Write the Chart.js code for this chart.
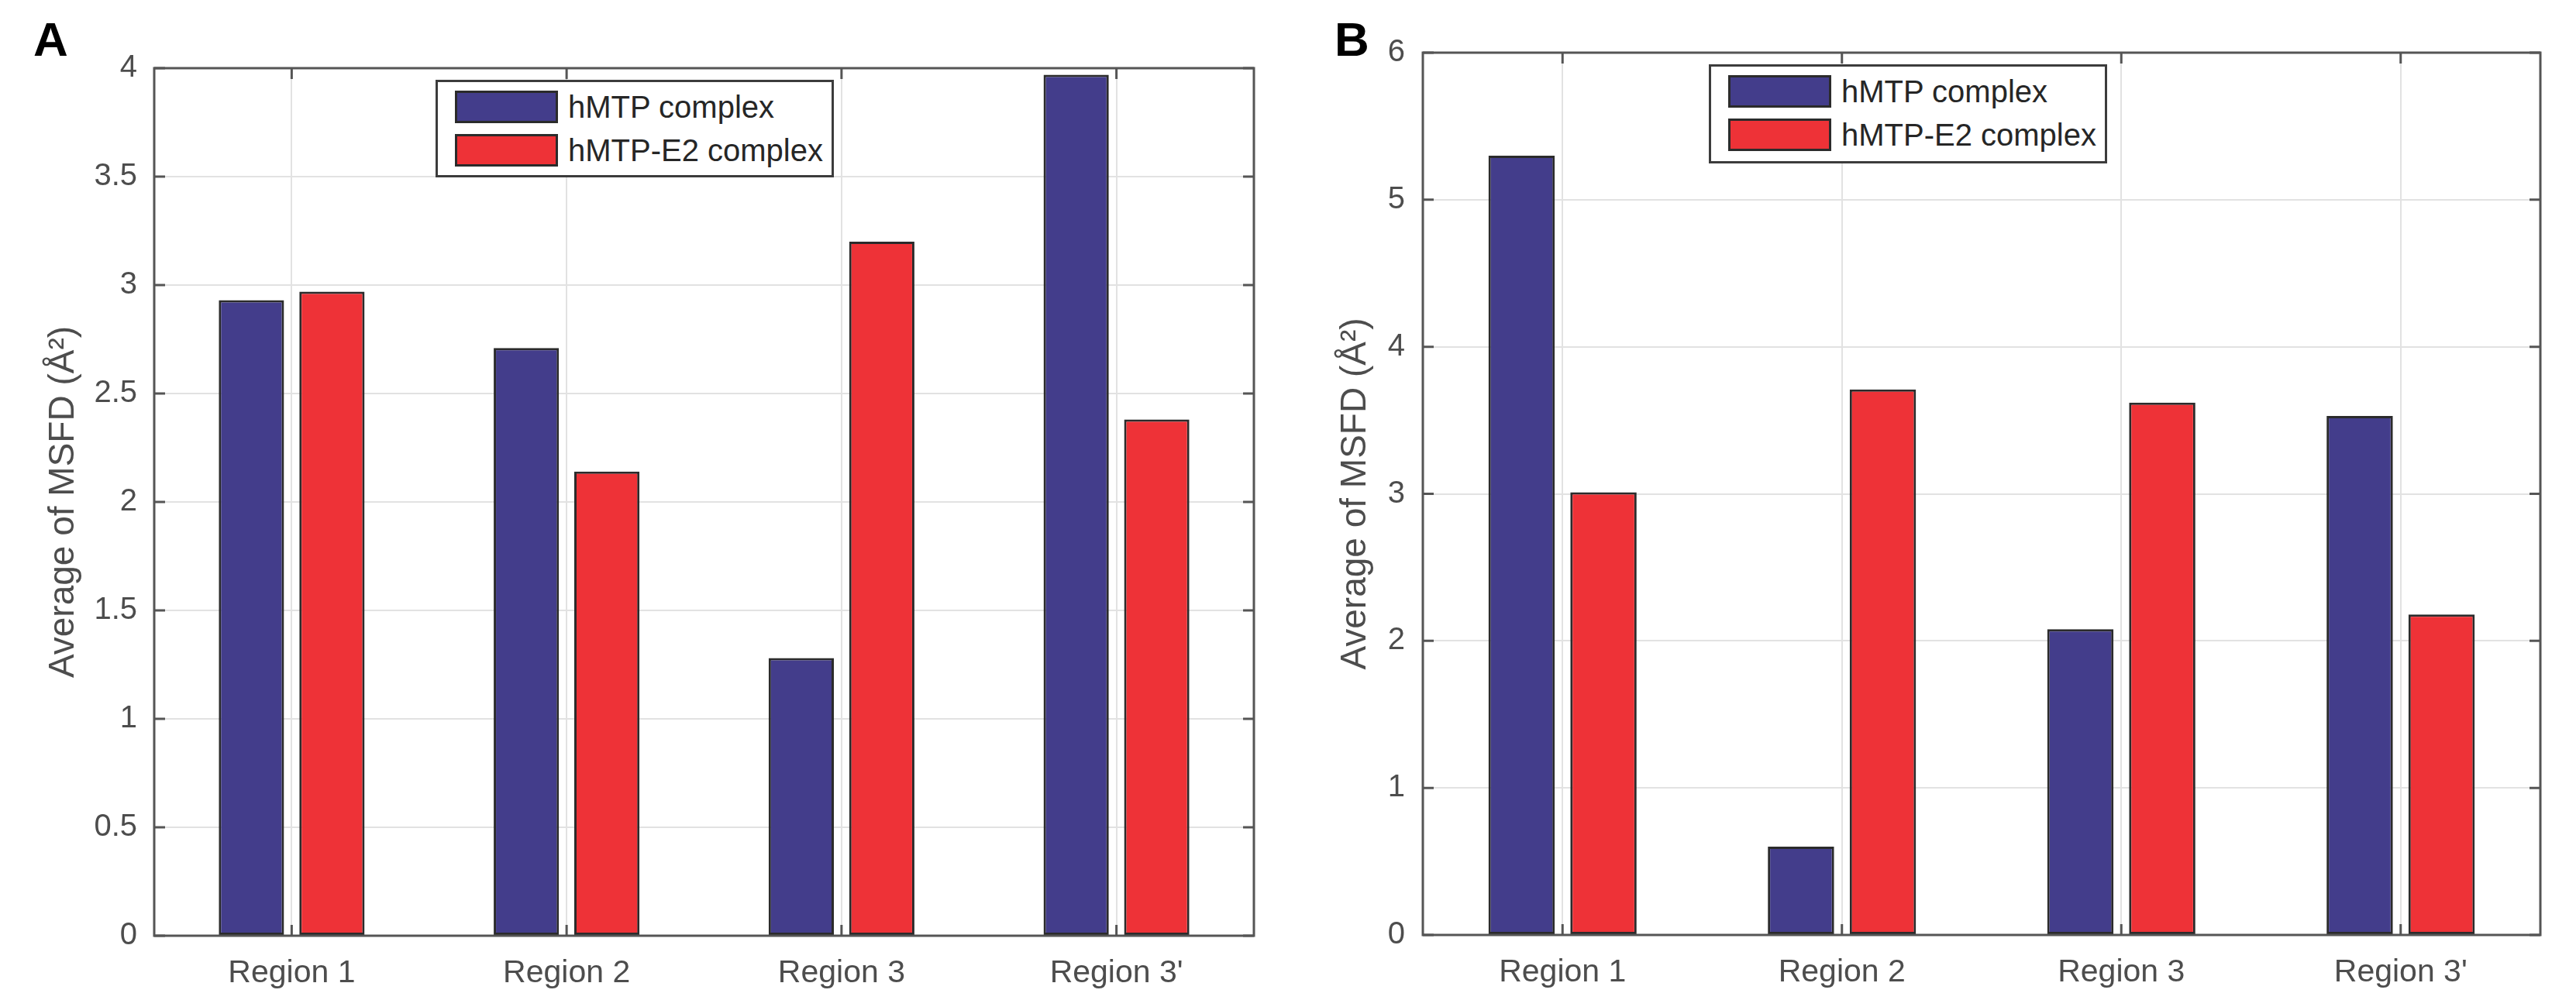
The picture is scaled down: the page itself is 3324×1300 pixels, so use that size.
<!DOCTYPE html>
<html>
<head>
<meta charset="utf-8">
<script src="https://cdn.jsdelivr.net/npm/chart.js@4"></script>
<style>
  html, body { margin: 0; padding: 0; background: #fff; }
  body { width: 3324px; height: 1300px; position: relative; overflow: hidden; font-family: "Liberation Sans", Arial, sans-serif; }
  canvas { position: absolute; top: 0; }
  .panel { position: absolute; top: 20px; font-weight: bold; font-size: 62px; line-height: 62px; color: #000; }
  .legend { position: absolute; box-sizing: border-box; border: 3px solid #3c3c3c; background: #fff; }
  .legend .sw { position: absolute; left: 22px; width: 133px; height: 42px; box-sizing: border-box; border: 3px solid #2b2b2b; }
  .legend .tx { position: absolute; left: 168px; font-size: 40px; line-height: 42px; color: #262626; white-space: nowrap; }
</style>
</head>
<body>
<div class="panel" style="left:43px">A</div>
<div class="panel" style="left:1722px">B</div>
<canvas id="chartA" width="1660" height="1300" style="left:0;width:1660px;height:1300px"></canvas>
<canvas id="chartB" width="1664" height="1300" style="left:1660px;width:1664px;height:1300px"></canvas>
<div class="legend" id="legendA" style="left:562px;top:103px;width:514px;height:126px"></div>
<div class="legend" id="legendB" style="left:2205px;top:83px;width:514px;height:128px"></div>

<script>
// values
var regions = ['Region 1', 'Region 2', 'Region 3', "Region 3'"];
var seriesNames = ['hMTP complex', 'hMTP-E2 complex'];

var msfdA_hMTP = [2.93, 2.71, 1.28, 3.97];
var msfdA_E2   = [2.97, 2.14, 3.20, 2.38];
var msfdB_hMTP = [5.30, 0.60, 2.08, 3.53];
var msfdB_E2   = [3.01, 3.71, 3.62, 2.18];

var yTicksA = [0, 0.5, 1, 1.5, 2, 2.5, 3, 3.5, 4];
var yTicksB = [0, 1, 2, 3, 4, 5, 6];

var colors = ['#433d8b', '#ee3237'];
var TICK = 14;

// matlab style box with inward ticks on all four sides
var boxPlugin = {
    id: 'matlabBox',
    afterDatasetsDraw: function (chart) {
        var ctx = chart.ctx, a = chart.chartArea;
        var x = chart.scales.x, y = chart.scales.y;
        ctx.save();
        ctx.strokeStyle = '#555';
        ctx.lineWidth = 3;
        ctx.beginPath();
        y.ticks.forEach(function (t, i) {
            var py = y.getPixelForTick(i);
            ctx.moveTo(a.left, py); ctx.lineTo(a.left + TICK, py);
            ctx.moveTo(a.right, py); ctx.lineTo(a.right - TICK, py);
        });
        x.ticks.forEach(function (t, i) {
            var px = x.getPixelForTick(i);
            ctx.moveTo(px, a.bottom); ctx.lineTo(px, a.bottom - TICK);
            ctx.moveTo(px, a.top); ctx.lineTo(px, a.top + TICK);
        });
        ctx.stroke();
        ctx.strokeRect(a.left, a.top, a.right - a.left, a.bottom - a.top);
        ctx.restore();
    }
};

function makeChart(id, seriesA, seriesB, yTicks, box) {
    var ctx = document.getElementById(id).getContext('2d');
    var datasets = [seriesA, seriesB].map(function (vals, i) {
        return {
            label: seriesNames[i],
            data: vals,
            backgroundColor: colors[i],
            borderColor: '#2b2b2b',
            borderWidth: 3,
            borderSkipped: false,
            categoryPercentage: 0.586,
            barPercentage: 0.81
        };
    });

    return new Chart(ctx, {
        type: 'bar',
        data: { labels: regions, datasets: datasets },
        plugins: [boxPlugin],
        options: {
            responsive: false,
            devicePixelRatio: 1,
            animation: false,
            layout: { padding: { top: box.top, right: box.right, left: 0, bottom: 0 } },
            plugins: { legend: { display: false }, tooltip: { enabled: false } },
            scales: {
                x: {
                    grid: { color: '#e2e2e2', lineWidth: 2, offset: false, drawTicks: false },
                    border: { display: false },
                    ticks: {
                        color: '#4d4d4d', padding: 24,
                        font: { family: 'Liberation Sans', size: 41 }
                    },
                    afterFit: function (s) { s.height = box.bottom; }
                },
                y: {
                    min: yTicks[0],
                    max: yTicks[yTicks.length - 1],
                    grid: { color: '#e2e2e2', lineWidth: 2, drawTicks: false },
                    border: { display: false },
                    afterBuildTicks: function (s) {
                        s.ticks = yTicks.map(function (v) { return { value: v }; });
                    },
                    ticks: {
                        color: '#4d4d4d', padding: box.tickPad,
                        font: { family: 'Liberation Sans', size: 40 },
                        callback: function (v) { return String(v); }
                    },
                    title: {
                        display: true,
                        text: 'Average of MSFD (Å²)',
                        color: '#4d4d4d',
                        font: { family: 'Liberation Sans', size: 46 },
                        padding: { top: box.titlePad, bottom: 0 }
                    },
                    afterFit: function (s) { s.width = box.left; }
                }
            }
        }
    });
}

function makeLegend(id) {
    var el = document.getElementById(id);
    seriesNames.forEach(function (name, i) {
        var sw = document.createElement('div');
        sw.className = 'sw';
        sw.style.top = (11 + i * 56) + 'px';
        sw.style.background = colors[i];
        var tx = document.createElement('div');
        tx.className = 'tx';
        tx.style.top = (11 + i * 56) + 'px';
        tx.textContent = name;
        el.appendChild(sw);
        el.appendChild(tx);
    });
}

makeChart('chartA', msfdA_hMTP, msfdA_E2, yTicksA,
    { left: 199, top: 88, right: 42, bottom: 92, tickPad: 22, titlePad: 55 });
makeChart('chartB', msfdB_hMTP, msfdB_E2, yTicksB,
    { left: 176, top: 68, right: 46, bottom: 93, tickPad: 23, titlePad: 62 });
makeLegend('legendA');
makeLegend('legendB');
</script>
</body>
</html>
